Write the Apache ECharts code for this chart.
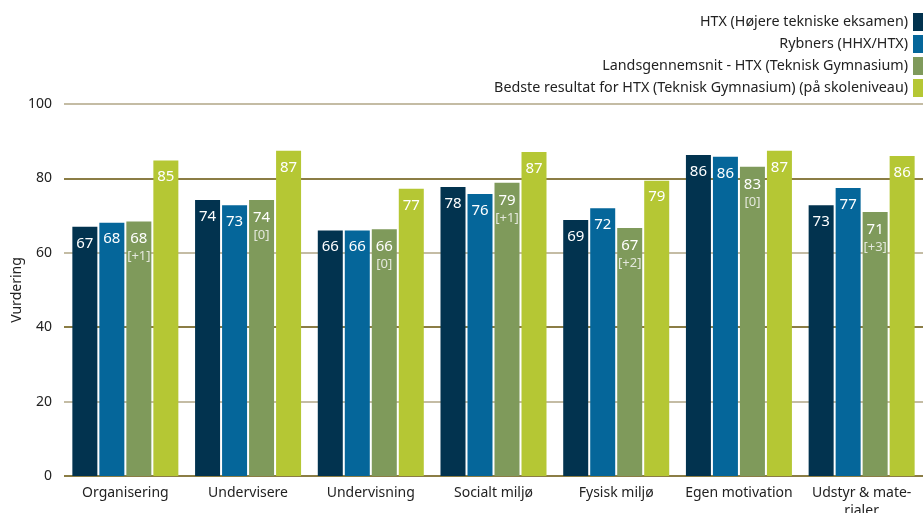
<!DOCTYPE html>
<html>
<head>
<meta charset="utf-8">
<script src="https://cdn.jsdelivr.net/npm/echarts@6/dist/echarts.min.js"></script>
<style>
  html, body { margin: 0; padding: 0; background: #fff; }
  #chart { width: 923px; height: 513px; }
</style>
</head>
<body>
<div id="chart"></div>
<script>
var categories = ["Organisering", "Undervisere", "Undervisning", "Socialt miljø", "Fysisk miljø", "Egen motivation", "Udstyr & mate-\nrialer"];
var seriesNames = [
  "HTX (Højere tekniske eksamen)",
  "Rybners (HHX/HTX)",
  "Landsgennemsnit - HTX (Teknisk Gymnasium)",
  "Bedste resultat for HTX (Teknisk Gymnasium) (på skoleniveau)"
];
var htx = [67.0, 74.2, 66.0, 77.7, 68.8, 86.3, 72.8];
var rybners = [68.1, 72.8, 66.0, 75.8, 72.0, 85.8, 77.4];
var lands = [68.4, 74.2, 66.3, 78.8, 66.7, 83.1, 71.0];
var bedste = [84.8, 87.4, 77.2, 87.1, 79.4, 87.4, 86.0];
var landsDiff = ["+1", "0", "0", "+1", "+2", "0", "+3"];
var yTicks = [0, 20, 40, 60, 80, 100];

var colors = ["#02334f", "#05669a", "#7f9a5b", "#b5c734"];
var font = "Noto Sans";

var myChart = echarts.init(document.getElementById("chart"));

function barSeries(name, data, i) {
  return {
    name: name,
    type: "bar",
    data: data,
    barWidth: 25,
    barGap: "8%",
    itemStyle: { color: colors[i] },
    label: {
      show: true,
      position: "insideTop",
      distance: 9,
      color: "#fff",
      fontFamily: font,
      fontSize: 15,
      formatter: function(p) { return Math.round(p.value); }
    }
  };
}

var series = [
  barSeries(seriesNames[0], htx, 0),
  barSeries(seriesNames[1], rybners, 1),
  barSeries(seriesNames[2], lands, 2),
  barSeries(seriesNames[3], bedste, 3)
];
// landsgennemsnit has the change in brackets underneath
series[2].label.formatter = function(p) {
  return "{a|" + Math.round(p.value) + "}\n{b|[" + landsDiff[p.dataIndex] + "]}";
};
series[2].label.rich = {
  a: { color: "#fff", fontFamily: font, fontSize: 15, lineHeight: 17 },
  b: { color: "#e4e8dc", fontFamily: font, fontSize: 13, lineHeight: 18 }
};

var option = {
  animation: false,
  backgroundColor: "#fff",
  textStyle: { fontFamily: font },
  legend: {
    orient: "vertical",
    right: -7,
    top: 8,
    align: "right",
    itemWidth: 12,
    itemHeight: 18,
    itemGap: 4,
    icon: "rect",
    textStyle: { fontFamily: font, fontSize: 14.3, color: "#222" },
    data: seriesNames
  },
  grid: { left: 64, right: 0, top: 104, bottom: 37, outerBoundsMode: "none", containLabel: false },
  xAxis: {
    type: "category",
    data: categories,
    axisLine: { show: false },
    axisTick: { show: false },
    axisLabel: { color: "#222", fontFamily: font, fontSize: 14, margin: 8, lineHeight: 18, interval: 0 }
  },
  yAxis: {
    type: "value",
    min: yTicks[0],
    max: yTicks[yTicks.length - 1],
    interval: 20,
    name: "Vurdering",
    nameLocation: "middle",
    nameGap: 40,
    nameMoveOverlap: false,
    nameTextStyle: { color: "#222", fontFamily: font, fontSize: 14 },
    axisLine: { show: false },
    axisTick: { show: false },
    axisLabel: { color: "#222", fontFamily: font, fontSize: 14, margin: 12 },
    splitLine: { lineStyle: { color: ["#8b7d45", "#c4bca4"], width: 2 } }
  },
  series: series
};
myChart.setOption(option);
window.addEventListener("resize", function() {
  myChart.resize();
});
</script>
</body>
</html>
